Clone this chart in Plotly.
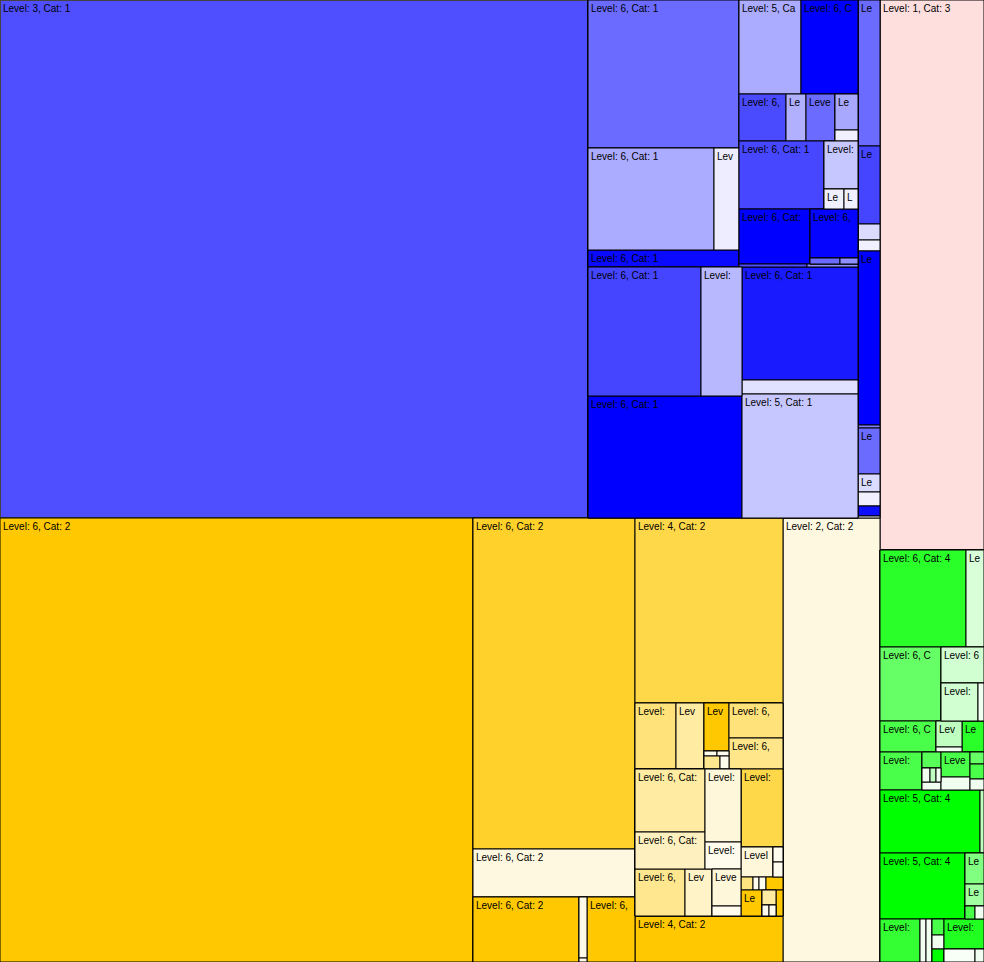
import plotly.graph_objects as go
from collections import defaultdict

# Hue per category (mixed towards white by each cell's lightness)
cat_hues = {1: (0, 0, 255), 2: (255, 200, 0), 3: (255, 0, 0), 4: (0, 255, 0)}

# Group rows: (parent, "h:name" = children side by side | "v:name" = children stacked)
# Leaf rows:  (parent, level, area, lightness)
layout_groups = [
    (None, "h:root"),
    ("h:root", "v:left"),
    ("v:left", "h:cat1"),
    ("v:left", "h:cat2"),
    ("h:root", "v:right"),
]

cat1_nodes = [
    ("h:cat1", 3, 304584, 0.31),
    ("h:cat1", "v:b1"),
    ("v:b1", "h:b1t"),
    ("h:b1t", "v:bl"),
    ("v:bl", 6, 22348, 0.42),
    ("v:bl", "h:blv"),
    ("h:blv", 6, 12852, 0.67),
    ("h:blv", 6, 2550, 0.93),
    ("v:bl", 6, 2567, 0.04),
    ("h:b1t", "v:br"),
    ("v:br", "h:r1"),
    ("h:r1", 5, 5828, 0.67),
    ("h:r1", 6, 5358, 0.0),
    ("v:br", "h:r2"),
    ("h:r2", 6, 2209, 0.29),
    ("h:r2", 6, 940, 0.69),
    ("h:r2", 6, 1363, 0.42),
    ("h:r2", "v:r2c"),
    ("v:r2c", 6, 828, 0.66),
    ("v:r2c", 6, 253, 0.94),
    ("v:br", "h:r3"),
    ("h:r3", 6, 5780, 0.28),
    ("h:r3", "v:r3c"),
    ("v:r3c", 6, 1632, 0.78),
    ("v:r3c", "h:r3r"),
    ("h:r3r", 6, 400, 0.94),
    ("h:r3r", 6, 280, 0.94),
    ("v:br", "h:r4"),
    ("h:r4", 6, 3905, 0.0),
    ("h:r4", "v:r4c"),
    ("v:r4c", 6, 2352, 0.02),
    ("v:r4c", "h:r4r"),
    ("h:r4r", 6, 180, 0.42),
    ("h:r4r", 6, 108, 0.56),
    ("v:br", "h:r5"),
    ("h:r5", 6, 204, 0.31),
    ("h:r5", 6, 153, 0.56),
    ("v:b1", "h:b1b"),
    ("h:b1b", "v:bbl"),
    ("v:bbl", "h:bbr"),
    ("h:bbr", 6, 14577, 0.27),
    ("h:bbr", 6, 5289, 0.72),
    ("v:bbl", 6, 18788, 0.0),
    ("h:b1b", "v:bbrt"),
    ("v:bbrt", 6, 13108, 0.10),
    ("v:bbrt", 6, 1624, 0.88),
    ("v:bbrt", 5, 14384, 0.78),
    ("h:cat1", "v:t"),
    ("v:t", 6, 3212, 0.42),
    ("v:t", 6, 1716, 0.27),
    ("v:t", 6, 352, 0.86),
    ("v:t", 6, 242, 0.94),
    ("v:t", 6, 3828, 0.0),
    ("v:t", 6, 66, 0.5),
    ("v:t", 6, 1012, 0.42),
    ("v:t", 6, 396, 0.86),
    ("v:t", 6, 308, 0.94),
    ("v:t", 6, 220, 0.05),
    ("v:t", 6, 44, 0.94),
]

cat2_nodes = [
    ("h:cat2", 6, 210012, 0.0),
    ("h:cat2", "v:c2"),
    ("v:c2", 6, 53622, 0.165),
    ("v:c2", 6, 7776, 0.88),
    ("v:c2", "h:c2r"),
    ("h:c2r", 6, 6890, 0.0),
    ("h:c2r", "v:c2s"),
    ("v:c2s", 6, 488, 0.91),
    ("v:c2s", 6, 32, 0.91),
    ("h:c2r", 6, 3120, 0.0),
    ("h:cat2", "v:c3"),
    ("v:c3", 4, 27380, 0.29),
    ("v:c3", "h:m1"),
    ("h:m1", 6, 2706, 0.48),
    ("h:m1", 6, 1848, 0.63),
    ("h:m1", "v:m1a"),
    ("v:m1a", 6, 1200, 0.0),
    ("v:m1a", "h:m1a1"),
    ("h:m1a1", 6, 65, 0.93),
    ("h:m1a1", 6, 60, 0.93),
    ("v:m1a", "h:m1a2"),
    ("h:m1a2", 6, 208, 0.56),
    ("h:m1a2", 6, 117, 0.93),
    ("h:m1", "v:m1b"),
    ("v:m1b", 6, 1890, 0.48),
    ("v:m1b", 6, 1674, 0.54),
    ("v:c3", "h:m2"),
    ("h:m2", "v:m2l"),
    ("v:m2l", "h:m2la"),
    ("h:m2la", "v:m2la1"),
    ("v:m2la1", 6, 4410, 0.63),
    ("v:m2la1", 6, 2590, 0.75),
    ("h:m2la", "v:m2la2"),
    ("v:m2la2", 6, 2628, 0.85),
    ("v:m2la2", 6, 972, 0.93),
    ("v:m2l", "h:m2lb"),
    ("h:m2lb", 6, 2350, 0.56),
    ("h:m2lb", 6, 1269, 0.78),
    ("h:m2lb", "v:m2lb3"),
    ("v:m2lb3", 6, 1073, 0.85),
    ("v:m2lb3", 6, 290, 0.93),
    ("h:m2", "v:m2r"),
    ("v:m2r", 6, 3276, 0.29),
    ("v:m2r", "h:m2r1"),
    ("h:m2r1", 6, 960, 0.85),
    ("h:m2r1", "v:m2r1c"),
    ("v:m2r1c", 6, 150, 0.93),
    ("v:m2r1c", 6, 150, 0.93),
    ("v:m2r", "h:m2r2"),
    ("h:m2r2", 6, 156, 0.5),
    ("h:m2r2", 6, 78, 0.93),
    ("h:m2r2", 6, 91, 0.93),
    ("h:m2r2", 6, 221, 0.0),
    ("v:m2r", "h:m2r3"),
    ("h:m2r3", 6, 546, 0.0),
    ("h:m2r3", "v:m2r3c"),
    ("v:m2r3c", 6, 210, 0.63),
    ("v:m2r3c", "h:m2r3d"),
    ("h:m2r3d", 6, 77, 0.93),
    ("h:m2r3d", 6, 77, 0.93),
    ("h:m2r3", 6, 182, 0.0),
    ("v:c3", 4, 6808, 0.0),
    ("h:cat2", 2, 43068, 0.88),
]

cat3_nodes = [
    ("v:right", 1, 57200, 0.87),
]

cat4_nodes = [
    ("v:right", "v:cat4"),
    ("v:cat4", "h:g1"),
    ("h:g1", 6, 8342, 0.165),
    ("h:g1", 6, 1746, 0.85),
    ("v:cat4", "h:g2"),
    ("h:g2", 6, 4514, 0.4),
    ("h:g2", "v:g2c"),
    ("v:g2c", 6, 1548, 0.82),
    ("v:g2c", "h:g2d"),
    ("h:g2d", 6, 1406, 0.82),
    ("h:g2d", 6, 228, 0.94),
    ("v:cat4", "h:g3"),
    ("h:g3", 6, 1736, 0.29),
    ("h:g3", "v:g3c"),
    ("v:g3c", 6, 676, 0.75),
    ("v:g3c", 6, 130, 0.94),
    ("h:g3", 6, 682, 0.165),
    ("v:cat4", "h:g4"),
    ("h:g4", 4, 1596, 0.29),
    ("h:g4", "v:g4a"),
    ("v:g4a", 6, 304, 0.35),
    ("v:g4a", "h:g4b"),
    ("h:g4b", 6, 112, 0.94),
    ("h:g4b", 6, 84, 0.75),
    ("h:g4b", 6, 70, 0.94),
    ("v:g4a", 6, 152, 0.94),
    ("h:g4", "v:g4c"),
    ("v:g4c", 6, 725, 0.29),
    ("v:g4c", 6, 377, 0.94),
    ("h:g4", "v:g4d"),
    ("v:g4d", 6, 168, 0.4),
    ("v:g4d", 6, 210, 0.29),
    ("v:g4d", 6, 154, 0.94),
    ("v:cat4", "h:g5"),
    ("h:g5", 5, 6300, 0.0),
    ("h:g5", 6, 252, 0.75),
    ("v:cat4", "h:g6"),
    ("h:g6", 5, 5610, 0.0),
    ("h:g6", "v:g6c"),
    ("v:g6c", 6, 589, 0.5),
    ("v:g6c", 6, 418, 0.63),
    ("v:g6c", "h:g6d"),
    ("h:g6d", 6, 130, 0.29),
    ("h:g6d", 6, 117, 0.94),
    ("v:cat4", "h:g7"),
    ("h:g7", 6, 1720, 0.2),
    ("h:g7", 6, 258, 0.94),
    ("h:g7", 6, 258, 0.94),
    ("h:g7", "v:g7c"),
    ("v:g7c", 6, 192, 0.29),
    ("v:g7c", 6, 168, 0.94),
    ("v:g7c", 6, 156, 0.0),
    ("h:g7", "v:g7d"),
    ("v:g7d", 6, 1200, 0.13),
    ("v:g7d", "h:g7e"),
    ("h:g7e", 6, 403, 0.97),
    ("h:g7e", 6, 117, 0.94),
]

FIG_W, FIG_H = 984, 962
FONT_SIZE = 10

# ---------------------------------------------------------------- build table
children = defaultdict(list)
info = {}
n_leaf = 0
for cat, rows in [(0, layout_groups), (1, cat1_nodes), (2, cat2_nodes),
                  (3, cat3_nodes), (4, cat4_nodes)]:
    for r in rows:
        if len(r) == 2:
            parent, name = r
            info[name] = ("group", name[0])
            children[parent].append(name)
        else:
            parent, level, area, light = r
            lid = "leaf%d" % n_leaf
            n_leaf += 1
            info[lid] = ("leaf", cat, level, area, light)
            children[parent].append(lid)


def shade(cat, t):
    r, g, b = cat_hues[cat]
    return "rgb(%d,%d,%d)" % (round(r + (255 - r) * t),
                              round(g + (255 - g) * t),
                              round(b + (255 - b) * t))


ids, parents, values, colors, full_text = [], [], [], [], []


def add(node, parent_id, depth):
    kind = info[node][0]
    if kind == "group":
        want_even = info[node][1] == "h"  # slice-dice: even depth -> side by side
        if (depth % 2 == 0) != want_even:
            pid = node + "~"
            ids.append(pid); parents.append(parent_id); values.append(0)
            colors.append("white"); full_text.append("")
            parent_id = pid
            depth += 1
        ids.append(node); parents.append(parent_id); values.append(0)
        colors.append("white"); full_text.append("")
        for c in children[node]:
            add(c, node, depth + 1)
    else:
        _, cat, level, area, light = info[node]
        ids.append(node); parents.append(parent_id); values.append(area)
        colors.append(shade(cat, light))
        full_text.append("Level: %d, Cat: %d" % (level, cat))


add(children[None][0], "", 0)

# ----------------------------------------------- label clipping (like the original)
# cell sizes follow the same slice-dice split the library uses; labels that are
# wider than their cell are cut to the characters that fit.
kids = defaultdict(list)
for i, p in zip(ids, parents):
    kids[p].append(i)
val = dict(zip(ids, values))
tot = {}


def total(n):
    tot[n] = val[n] + sum(total(c) for c in kids[n])
    return tot[n]


root_id = ids[0]
total(root_id)
size = {}


def split(n, x0, y0, x1, y1, depth):
    size[n] = (x1 - x0, y1 - y0)
    s = tot[n] or 1
    pos = x0 if depth % 2 == 0 else y0
    for c in kids[n]:
        f = tot[c] / s
        if depth % 2 == 0:
            w = (x1 - x0) * f
            split(c, pos, y0, pos + w, y1, depth + 1)
            pos += w
        else:
            h = (y1 - y0) * f
            split(c, x0, pos, x1, pos + h, depth + 1)
            pos += h


split(root_id, 0, 0, FIG_W, FIG_H, 0)

char_w = {"L": 0.556, "e": 0.556, "v": 0.5, "l": 0.222, ":": 0.278, " ": 0.278,
          ",": 0.278, "C": 0.722, "a": 0.556, "t": 0.278}


def clip(txt, w, h):
    if not txt or h < 15:
        return ""
    avail = w - 6.5
    out, acc = "", 0.0
    for ch in txt:
        acc += char_w.get(ch, 0.556) * FONT_SIZE * 1.03
        if acc > avail:
            break
        out += ch
    return out.rstrip()


texts = [clip(t, *size[i]) for i, t in zip(ids, full_text)]

fig = go.Figure(go.Treemap(
    ids=ids, labels=ids, parents=parents, values=values,
    branchvalues="remainder", sort=False,
    text=texts, textinfo="text", textposition="top left",
    textfont=dict(family="Liberation Sans, Arial, sans-serif", size=FONT_SIZE,
                  color="black"),
    marker=dict(colors=colors, line=dict(color="black", width=1),
                pad=dict(t=0, l=0, r=0, b=0)),
    tiling=dict(packing="slice-dice", pad=0),
    pathbar=dict(visible=False),
    root=dict(color="white"),
    hoverinfo="skip",
))
fig.update_layout(
    width=FIG_W, height=FIG_H,
    margin=dict(l=0, r=0, t=0, b=0),
    paper_bgcolor="white",
    uniformtext=dict(minsize=FONT_SIZE, mode="hide"),
)
fig.write_html("out.html")
